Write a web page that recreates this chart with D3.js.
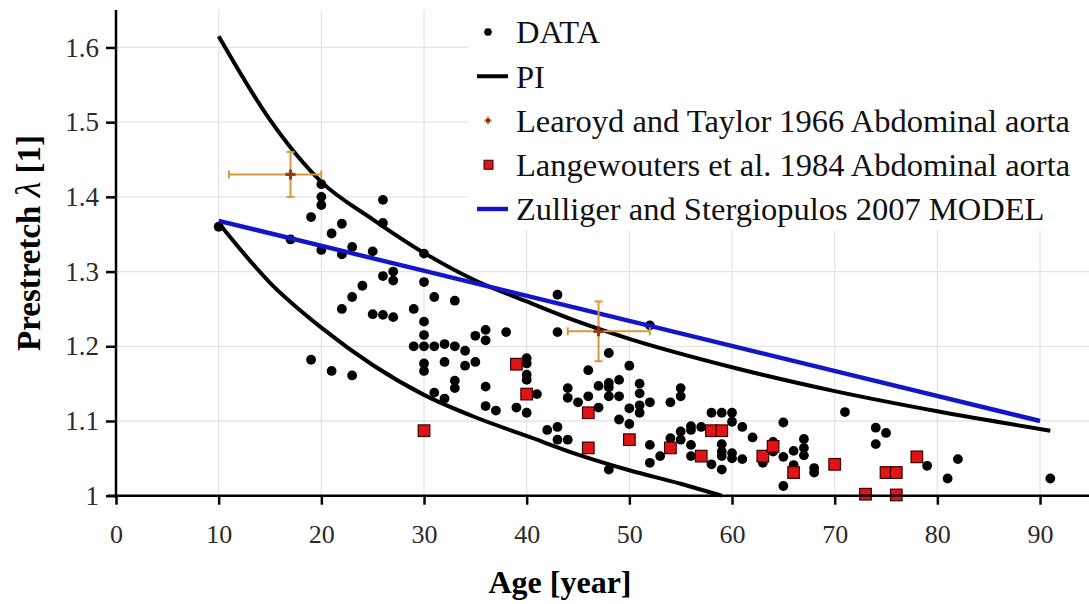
<!DOCTYPE html>
<html>
<head>
<meta charset="utf-8">
<script src="https://cdn.jsdelivr.net/npm/d3@7"></script>
<style>
  body { margin: 0; background: #fff; }
  text { font-family: "Liberation Serif", "DejaVu Serif", serif; }
</style>
</head>
<body>
<svg id="svg"></svg>
<script>
////////////////////////////////////////////////////////////////////////
// Data

// measured prestretch (black dots)
let dataAge = [10, 17, 19, 19, 20, 20, 20, 20, 21, 21, 22, 22, 22, 23, 23, 23, 24, 25, 25,
  26, 26, 26, 26, 27, 27, 27, 29, 29, 30, 30, 30, 30, 30, 30, 30, 31, 31, 31, 32, 32, 32,
  33, 33, 33, 33, 34, 34, 35, 35, 36, 36, 36, 36, 37, 38, 39, 40, 40, 40, 40, 40, 41, 42,
  43, 43, 43, 43, 44, 44, 44, 45, 46, 46, 47, 47, 48, 48, 48, 48, 48, 49, 49, 49, 50, 50, 50,
  51, 51, 51, 51, 52, 52, 52, 52, 53, 54, 54, 55, 55, 55, 55, 56, 56, 56, 56, 57, 58, 58,
  59, 59, 59, 59, 59, 60, 60, 60, 60, 61, 61, 62, 63, 64, 64, 65, 65, 65, 66, 66, 67, 67, 67,
  68, 68, 71, 74, 74, 75, 79, 81, 82, 91];
let dataLambda = [1.360, 1.343, 1.373, 1.182, 1.417, 1.400, 1.389, 1.329, 1.351, 1.167,
  1.364, 1.323, 1.250, 1.333, 1.266, 1.161, 1.281, 1.327, 1.243,
  1.396, 1.365, 1.294, 1.242, 1.300, 1.288, 1.239, 1.250, 1.200,
  1.324, 1.286, 1.233, 1.215, 1.200, 1.177, 1.167, 1.266, 1.200, 1.138, 1.203, 1.179, 1.130,
  1.261, 1.200, 1.154, 1.144, 1.194, 1.174, 1.214, 1.179, 1.222, 1.208, 1.146, 1.120,
  1.114, 1.219, 1.118, 1.184, 1.177, 1.162, 1.155, 1.111, 1.136, 1.088,
  1.269, 1.219, 1.092, 1.075, 1.144, 1.131, 1.075, 1.125, 1.168, 1.133, 1.147, 1.118,
  1.191, 1.151, 1.145, 1.133, 1.035, 1.155, 1.133, 1.102, 1.174, 1.117, 1.096,
  1.150, 1.137, 1.121, 1.111, 1.228, 1.125, 1.068, 1.044, 1.053, 1.125, 1.077,
  1.144, 1.133, 1.086, 1.075, 1.093, 1.088, 1.068, 1.053, 1.092, 1.111, 1.042,
  1.111, 1.069, 1.059, 1.053, 1.035, 1.111, 1.099, 1.057, 1.050, 1.092, 1.049, 1.078,
  1.044, 1.072, 1.059, 1.098, 1.052, 1.013, 1.060, 1.041, 1.076, 1.064, 1.054,
  1.037, 1.031, 1.112, 1.091, 1.069, 1.084, 1.040, 1.023, 1.049, 1.023];

// prediction interval bounds (PI)
let piUpperAge = [10, 15, 20, 25, 30, 35, 40, 45, 50, 60, 70, 80, 91];
let piUpper = [1.615, 1.503, 1.420, 1.370, 1.325, 1.288, 1.260, 1.233, 1.210, 1.172, 1.140, 1.113, 1.087];
let piLowerAge = [10, 15, 20, 25, 30, 35, 40, 45, 50, 55, 59];
let piLower = [1.365, 1.285, 1.225, 1.175, 1.135, 1.105, 1.080, 1.055, 1.034, 1.016, 1.000];

// Learoyd and Taylor 1966
let learAge = [17, 47];
let learLambda = [1.43, 1.22];
let learAgeLo = [11, 44];
let learAgeHi = [20, 52];
let learLambdaLo = [1.40, 1.18];
let learLambdaHi = [1.46, 1.26];

// Langewouters et al. 1984
let langAge = [30, 39, 40, 46, 46, 50, 54, 57, 58, 59, 63, 64, 66, 70, 73, 75, 76, 76, 78];
let langLambda = [1.087, 1.176, 1.136, 1.111, 1.064, 1.075, 1.064, 1.053, 1.087, 1.087,
  1.053, 1.066, 1.031, 1.042, 1.002, 1.031, 1.031, 1.001, 1.052];

// Zulliger and Stergiopulos 2007 model
let zsAge = [10, 50, 90];
let zsLambda = [1.368, 1.234, 1.100];

let xMajor = [0, 10, 20, 30, 40, 50, 60, 70, 80, 90];
let yMajor = [1, 1.1, 1.2, 1.3, 1.4, 1.5, 1.6];
let yLabels = ["1", "1.1", "1.2", "1.3", "1.4", "1.5", "1.6"];

let legendNames = ["DATA", "PI", "Learoyd and Taylor 1966 Abdominal aorta",
  "Langewouters et al. 1984 Abdominal aorta", "Zulliger and Stergiopulos 2007 MODEL"];

////////////////////////////////////////////////////////////////////////
// Scales

let width = 1089, height = 604;
let svg = d3.select("#svg").attr("width", width).attr("height", height);

let x = d3.scaleLinear().domain([0, 95]).range([116, 116 + 95 * 10.267]);
let y = d3.scaleLinear().domain([1, 1.65]).range([495.7, 10.1]);

let xMinor = d3.range(0, 95, 2);
let yMinor = d3.range(0, 33).map(i => 1 + i * 0.02);

////////////////////////////////////////////////////////////////////////
// Grid

svg.append("g").selectAll("line").data(xMajor.slice(1)).enter().append("line")
  .attr("x1", d => x(d)).attr("x2", d => x(d))
  .attr("y1", y(1.65)).attr("y2", y(1))
  .attr("stroke", "#e4e4e4").attr("stroke-width", 1.3);
svg.append("g").selectAll("line").data(yMajor.slice(1)).enter().append("line")
  .attr("x1", x(0)).attr("x2", width)
  .attr("y1", d => y(d)).attr("y2", d => y(d))
  .attr("stroke", "#e4e4e4").attr("stroke-width", 1.3);

// legend background hides the grid behind it
svg.append("rect").attr("x", 468).attr("y", 8).attr("width", width - 468).attr("height", 222)
  .attr("fill", "#fff");

////////////////////////////////////////////////////////////////////////
// Curves and markers

let line = d3.line().x(d => x(d[0])).y(d => y(d[1])).curve(d3.curveMonotoneX);

svg.append("path").datum(d3.zip(piUpperAge, piUpper)).attr("d", line)
  .attr("fill", "none").attr("stroke", "#000").attr("stroke-width", 4);
svg.append("path").datum(d3.zip(piLowerAge, piLower)).attr("d", line)
  .attr("fill", "none").attr("stroke", "#000").attr("stroke-width", 4);

svg.append("g").selectAll("circle").data(d3.zip(dataAge, dataLambda)).enter().append("circle")
  .attr("cx", d => x(d[0])).attr("cy", d => y(d[1])).attr("r", 4.9).attr("fill", "#000");

svg.append("path").datum(d3.zip(zsAge, zsLambda)).attr("d", line)
  .attr("fill", "none").attr("stroke", "#1414c8").attr("stroke-width", 4.4);

// error bars
let errCol = "#d49a3a";
let eb = svg.append("g").attr("stroke", errCol).attr("stroke-width", 2);
learAge.forEach(function(a, i) {
  let cx = x(a), cy = y(learLambda[i]);
  eb.append("line").attr("x1", x(learAgeLo[i])).attr("x2", x(learAgeHi[i])).attr("y1", cy).attr("y2", cy);
  eb.append("line").attr("x1", cx).attr("x2", cx).attr("y1", y(learLambdaLo[i])).attr("y2", y(learLambdaHi[i]));
  [learAgeLo[i], learAgeHi[i]].forEach(v => eb.append("line")
    .attr("x1", x(v)).attr("x2", x(v)).attr("y1", cy - 4).attr("y2", cy + 4));
  [learLambdaLo[i], learLambdaHi[i]].forEach(v => eb.append("line")
    .attr("x1", cx - 4).attr("x2", cx + 4).attr("y1", y(v)).attr("y2", y(v)));
  svg.append("path").attr("d", "M" + (cx - 5) + "," + cy + "H" + (cx + 5) + "M" + cx + "," + (cy - 5) + "V" + (cy + 5))
    .attr("stroke", "#8a2a08").attr("stroke-width", 3.2).attr("opacity", 0.85);
});

svg.append("g").selectAll("rect").data(d3.zip(langAge, langLambda)).enter().append("rect")
  .attr("x", d => x(d[0]) - 5.8).attr("y", d => y(d[1]) - 5.8)
  .attr("width", 11.6).attr("height", 11.6)
  .attr("fill", "#e01414").attr("stroke", "#3a0000").attr("stroke-width", 1.2);

////////////////////////////////////////////////////////////////////////
// Axes

let xAxisG = svg.append("g").attr("transform", "translate(0," + y(1) + ")");
xAxisG.call(d3.axisBottom(x).tickValues(xMinor).tickSize(7).tickFormat(""));
xAxisG.call(d3.axisBottom(x).tickValues(xMajor).tickSize(9).tickFormat(d3.format("d")));
xAxisG.selectAll("path").attr("d", "M" + (x(0) - 8) + ",0H" + width);
xAxisG.selectAll("line").attr("stroke", "#000").attr("stroke-width", 2.5);
xAxisG.selectAll("path").attr("stroke", "#000").attr("stroke-width", 2.5);
xAxisG.selectAll("text").attr("font-size", 26).attr("fill", "#2a2a2a")
  .attr("font-family", "Liberation Serif").attr("dy", "1.05em").attr("y", 20);

let yAxisG = svg.append("g").attr("transform", "translate(" + x(0) + ",0)");
yAxisG.call(d3.axisLeft(y).tickValues(yMinor).tickSize(7).tickFormat(""));
yAxisG.call(d3.axisLeft(y).tickValues(yMajor).tickSize(10).tickFormat((d, i) => yLabels[i]));
yAxisG.selectAll("path").attr("d", "M0," + (y(1) + 2) + "V" + y(1.65));
yAxisG.selectAll("line").attr("stroke", "#000").attr("stroke-width", 2.5);
yAxisG.selectAll("path").attr("stroke", "#000").attr("stroke-width", 2.5);
yAxisG.selectAll("text").attr("font-size", 27).attr("fill", "#2a2a2a")
  .attr("font-family", "Liberation Serif").attr("x", -17);

svg.append("text").attr("x", 560).attr("y", 593).attr("text-anchor", "middle")
  .attr("font-size", 32).attr("font-weight", "bold").text("Age [year]");

let yt = svg.append("text").attr("transform", "translate(40,243) rotate(-90)")
  .attr("text-anchor", "middle").attr("font-size", 33).attr("font-weight", "bold");
yt.append("tspan").text("Prestretch ");
yt.append("tspan").attr("font-style", "italic").attr("font-weight", "normal").attr("font-size", 36).text("λ");
yt.append("tspan").text(" [1]");

////////////////////////////////////////////////////////////////////////
// Legend

let legY = d3.scalePoint().domain(legendNames).range([32, 209]);
let leg = svg.append("g");
legendNames.forEach(function(name) {
  leg.append("text").attr("x", 516).attr("y", legY(name)).attr("dy", "0.35em")
    .attr("font-size", 32.5).attr("fill", "#111").text(name);
});
leg.append("circle").attr("cx", 488).attr("cy", legY(legendNames[0])).attr("r", 3.8).attr("fill", "#000");
leg.append("line").attr("x1", 477).attr("x2", 508).attr("y1", legY(legendNames[1])).attr("y2", legY(legendNames[1]))
  .attr("stroke", "#000").attr("stroke-width", 4);
let ly = legY(legendNames[2]);
leg.append("line").attr("x1", 484).attr("x2", 492).attr("y1", ly).attr("y2", ly).attr("stroke", errCol).attr("stroke-width", 2);
leg.append("line").attr("x1", 488).attr("x2", 488).attr("y1", ly - 4).attr("y2", ly + 4).attr("stroke", errCol).attr("stroke-width", 2);
leg.append("rect").attr("x", 486).attr("y", ly - 2).attr("width", 4).attr("height", 4).attr("fill", "#8a2a08");
leg.append("rect").attr("x", 484).attr("y", legY(legendNames[3]) - 4.5).attr("width", 9).attr("height", 9)
  .attr("fill", "#e01414").attr("stroke", "#3a0000").attr("stroke-width", 1);
leg.append("line").attr("x1", 477).attr("x2", 508).attr("y1", legY(legendNames[4])).attr("y2", legY(legendNames[4]))
  .attr("stroke", "#1414c8").attr("stroke-width", 4.4);
</script>
</body>
</html>
